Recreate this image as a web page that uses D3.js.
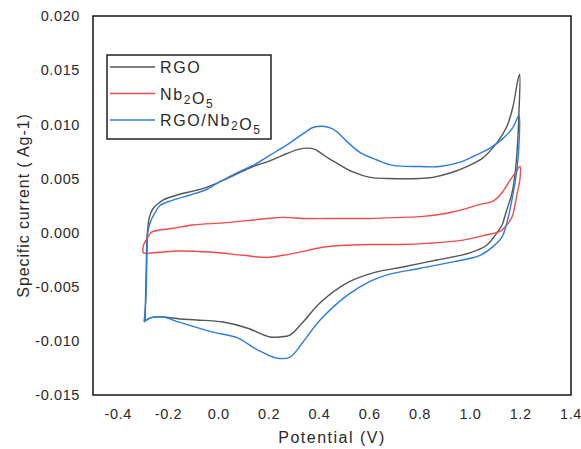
<!DOCTYPE html>
<html>
<head>
<meta charset="utf-8">
<script src="https://cdn.jsdelivr.net/npm/d3@7"></script>
<style>
  body { margin: 0; background: #fff; }
  text { font-family: "Liberation Sans", Arial, sans-serif; fill: #2a2a2a; }
</style>
</head>
<body>
<svg id="chart" width="581" height="449"></svg>
<script>
// tick labels
var xTicks = [-0.4, -0.2, 0.0, 0.2, 0.4, 0.6, 0.8, 1.0, 1.2, 1.4];
var yTicks = [0.020, 0.015, 0.010, 0.005, 0.000, -0.005, -0.010, -0.015];

// series names
var seriesNames = ["RGO", "Nb2O5", "RGO/Nb2O5"];

// [potential (V), specific current]
var rgo = [
  [-0.293, -0.00816], [-0.291, -0.0060], [-0.288, -0.0030], [-0.285, -0.0004],
  [-0.276, 0.0014], [-0.262, 0.0022], [-0.240, 0.0027], [-0.222, 0.0030],
  [-0.166, 0.00347], [-0.090, 0.0039], [-0.047, 0.0042], [0.005, 0.0047],
  [0.070, 0.0054], [0.136, 0.0061], [0.200, 0.0066], [0.271, 0.0073],
  [0.320, 0.0077], [0.351, 0.0078], [0.380, 0.0077], [0.402, 0.0074],
  [0.440, 0.0068], [0.470, 0.0064], [0.533, 0.0056], [0.601, 0.0051],
  [0.669, 0.0050], [0.800, 0.0050], [0.851, 0.0051], [0.919, 0.0055],
  [0.986, 0.0061], [1.050, 0.0069], [1.106, 0.0083], [1.145, 0.0098],
  [1.169, 0.0116], [1.189, 0.0141], [1.196, 0.0146], [1.193, 0.0110],
  [1.187, 0.0080], [1.178, 0.0055], [1.165, 0.0036], [1.149, 0.0024],
  [1.137, 0.0015], [1.126, 0.0007], [1.106, 0.0000], [1.066, -0.00115],
  [0.998, -0.00188], [0.867, -0.00253], [0.732, -0.00318], [0.620, -0.00368],
  [0.510, -0.00465], [0.402, -0.0065], [0.335, -0.00826], [0.283, -0.00946],
  [0.243, -0.00964], [0.203, -0.00964], [0.112, -0.00881], [0.017, -0.00826],
  [-0.087, -0.00807], [-0.154, -0.00798], [-0.222, -0.00779], [-0.270, -0.00785],
  [-0.293, -0.00816]
];

var nb2o5 = [
  [-0.301, -0.0019], [-0.300, -0.0012], [-0.289, -0.0007], [-0.273, -0.0001],
  [-0.262, 0.0001], [-0.182, 0.0004], [-0.103, 0.0007], [0.017, 0.0009],
  [0.112, 0.0011], [0.192, 0.0013], [0.255, 0.0014], [0.351, 0.0013],
  [0.482, 0.0013], [0.601, 0.0013], [0.720, 0.0014], [0.812, 0.0015],
  [0.931, 0.0019], [1.038, 0.0026], [1.090, 0.0029], [1.126, 0.0037],
  [1.157, 0.0048], [1.181, 0.0056], [1.197, 0.0061], [1.197, 0.0049],
  [1.185, 0.0035], [1.177, 0.0025], [1.165, 0.0014], [1.137, 0.0005],
  [1.118, 0.0001], [1.066, -0.0002], [0.971, -0.0007], [0.828, -0.0010],
  [0.720, -0.0011], [0.601, -0.0011], [0.482, -0.0012], [0.402, -0.0014],
  [0.323, -0.0018], [0.255, -0.0021], [0.192, -0.0023], [0.096, -0.0021],
  [-0.035, -0.0018], [-0.166, -0.0017], [-0.273, -0.0019], [-0.301, -0.0019]
];

var rgoNb2o5 = [
  [-0.297, -0.00826], [-0.290, -0.0062], [-0.285, -0.0016], [-0.281, 0.0002],
  [-0.268, 0.0012], [-0.254, 0.0018], [-0.234, 0.0025], [-0.182, 0.0030],
  [-0.114, 0.00347], [-0.047, 0.0040], [0.005, 0.0047], [0.070, 0.0055],
  [0.136, 0.0062], [0.200, 0.0071], [0.271, 0.0081], [0.340, 0.0092],
  [0.374, 0.0097], [0.422, 0.0098], [0.450, 0.0096], [0.470, 0.0093],
  [0.510, 0.0084], [0.561, 0.0074], [0.629, 0.0067], [0.692, 0.0062],
  [0.800, 0.0061], [0.879, 0.0061], [0.959, 0.0065], [1.026, 0.0072],
  [1.078, 0.0078], [1.130, 0.0087], [1.169, 0.0097], [1.193, 0.0108],
  [1.194, 0.0085], [1.185, 0.0058], [1.165, 0.0030], [1.145, 0.0009],
  [1.126, -0.0004], [1.090, -0.0013], [1.038, -0.0021], [0.931, -0.0027],
  [0.800, -0.0033], [0.669, -0.0039], [0.601, -0.0045], [0.510, -0.0058],
  [0.402, -0.0081], [0.335, -0.0101], [0.283, -0.0115], [0.231, -0.0116],
  [0.152, -0.0108], [0.072, -0.0097], [-0.023, -0.0092], [-0.154, -0.0083],
  [-0.222, -0.0078], [-0.273, -0.0079], [-0.297, -0.00826]
];

var colors = ["#555555", "#f24a4a", "#2b7de3"];

var svg = d3.select("#chart");
var margin = {top: 16, right: 10, bottom: 54, left: 93};
var width = 581 - margin.left - margin.right,
    height = 449 - margin.top - margin.bottom;

var g = svg.append("g")
  .attr("transform", "translate(" + margin.left + "," + margin.top + ")");

var x = d3.scaleLinear().domain([-0.5, 1.4]).range([0, width]);
var y = d3.scaleLinear().domain([-0.015, 0.020]).range([height, 0]);

// tick labels (no tick marks in the original)
g.selectAll(".xlab")
  .data(xTicks)
  .enter()
  .append("text")
  .attr("x", function (d) { return x(d); })
  .attr("y", height + 24)
  .attr("text-anchor", "middle")
  .style("font-size", "14.5px")
  .style("letter-spacing", "0.6px")
  .text(function (d) { return d.toFixed(1); });

g.selectAll(".ylab")
  .data(yTicks)
  .enter()
  .append("text")
  .attr("x", -13)
  .attr("y", function (d) { return y(d); })
  .attr("dy", "0.36em")
  .attr("text-anchor", "end")
  .style("font-size", "14.5px")
  .style("letter-spacing", "0.6px")
  .text(function (d) { return d.toFixed(3); });

// curves
var line = d3.line()
  .x(function (d) { return x(d[0]); })
  .y(function (d) { return y(d[1]); })
  .curve(d3.curveCatmullRom.alpha(0.5));

[rgo, nb2o5, rgoNb2o5].forEach(function (s, i) {
  g.append("path")
    .datum(s)
    .attr("d", line)
    .attr("fill", "none")
    .attr("stroke", colors[i])
    .attr("stroke-width", 1.4)
    .attr("stroke-linejoin", "round");
});

// frame
g.append("rect")
  .attr("width", width)
  .attr("height", height)
  .attr("fill", "none")
  .attr("stroke", "#222")
  .attr("stroke-width", 1.6);

// axis titles
svg.append("text")
  .attr("x", margin.left + width / 2)
  .attr("y", 443)
  .attr("text-anchor", "middle")
  .style("font-size", "16px")
  .style("letter-spacing", "1.5px")
  .text("Potential (V)");

svg.append("text")
  .attr("transform", "translate(29," + (margin.top + height / 2) + ") rotate(-90)")
  .attr("text-anchor", "middle")
  .style("font-size", "16px")
  .style("letter-spacing", "0.9px")
  .text("Specific current ( Ag-1)");

// legend
var legend = svg.append("g").attr("transform", "translate(107,55)");
legend.append("rect")
  .attr("width", 164)
  .attr("height", 84)
  .attr("fill", "#fff")
  .attr("stroke", "#222")
  .attr("stroke-width", 1.5);

seriesNames.forEach(function (name, i) {
  var ry = 12 + i * 26.5;
  legend.append("line")
    .attr("x1", 3).attr("x2", 48)
    .attr("y1", ry).attr("y2", ry)
    .attr("stroke", colors[i])
    .attr("stroke-width", 1.4);
  var t = legend.append("text")
    .attr("x", 53)
    .attr("y", ry + 6)
    .style("font-size", "16px")
    .style("letter-spacing", "1.6px");
  // split on digits so the 2 and 5 become subscripts
  name.split(/(\d)/).forEach(function (part) {
    if (part === "") return;
    if (/\d/.test(part)) {
      t.append("tspan").attr("dy", 4).style("font-size", "12px").text(part);
      t.append("tspan").attr("dy", -4).text("");
    } else {
      t.append("tspan").text(part);
    }
  });
});
</script>
</body>
</html>
